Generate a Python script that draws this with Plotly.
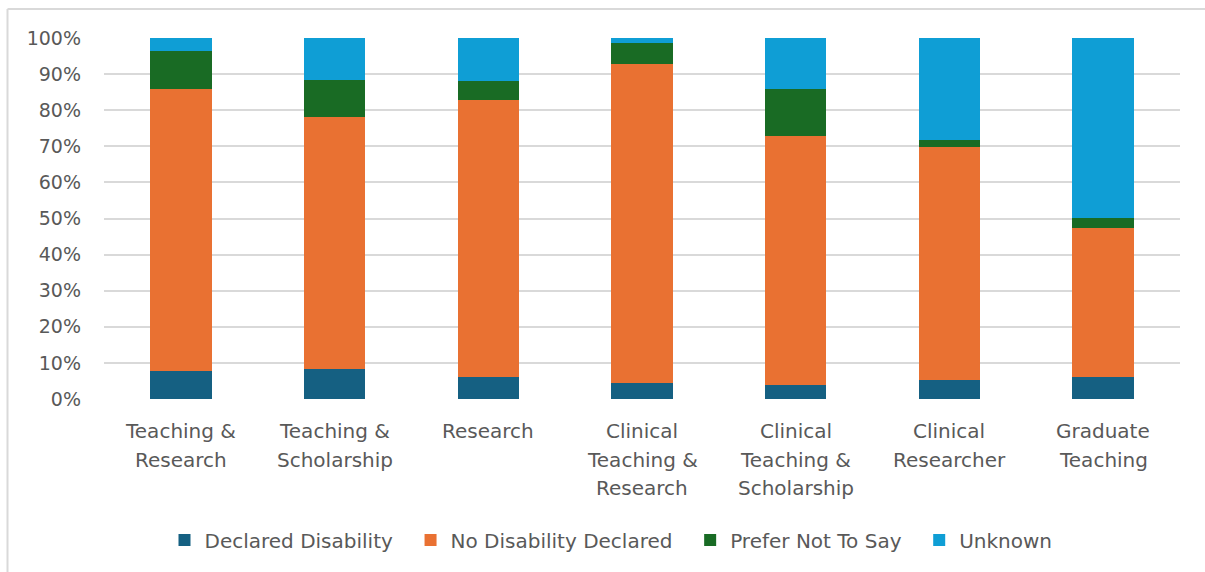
import plotly.graph_objects as go

categories = [
    "Teaching &<br>Research",
    "Teaching &<br>Scholarship",
    "Research",
    "Clinical<br>Teaching &<br>Research",
    "Clinical<br>Teaching &<br>Scholarship",
    "Clinical<br>Researcher",
    "Graduate<br>Teaching",
]
declared = [7.8, 8.3, 6.2, 4.4, 4.0, 5.4, 6.2]
no_declared = [78.2, 69.8, 76.7, 88.4, 68.9, 64.3, 41.2]
prefer_not = [10.4, 10.3, 5.2, 5.8, 12.9, 2.1, 2.7]
unknown = [3.6, 11.6, 11.9, 1.4, 14.2, 28.2, 49.9]

series_names = ["Declared Disability", "No Disability Declared", "Prefer Not To Say", "Unknown"]
series_colors = ["#156082", "#E97132", "#196B24", "#0F9ED5"]
series_values = [declared, no_declared, prefer_not, unknown]

W, H = 1205, 572
L, R, T, B = 104, 25, 38, 173
pw, ph = W - L - R, H - T - B

def px_x(x):
    return (x - L) / pw

def px_y(y):
    return (H - B - y) / ph

xs = list(range(len(categories)))
fig = go.Figure()
for k, (name, vals, color) in enumerate(zip(series_names, series_values, series_colors)):
    pad = "\u00a0\u00a0" if k < len(series_names) - 1 else ""
    fig.add_trace(go.Bar(
        name=name + pad, x=xs, y=vals,
        marker=dict(color=color, line=dict(width=0)),
        width=0.4,
    ))

font_family = "DejaVu Sans, sans-serif"
grey = "#595959"
fig.update_layout(
    width=W, height=H,
    margin=dict(l=L, r=R, t=T, b=B, pad=0),
    barmode="stack",
    paper_bgcolor="white", plot_bgcolor="white",
    font=dict(family=font_family, color=grey, size=19),
    xaxis=dict(
        tickmode="array", tickvals=xs, ticktext=categories,
        range=[-0.5, len(categories) - 0.5], showgrid=False, zeroline=False,
        showline=False, ticks="", showticklabels=False,
    ),
    yaxis=dict(
        range=[0, 100], tickvals=list(range(0, 101, 10)),
        ticktext=[f"{v}%" for v in range(0, 101, 10)],
        showgrid=True, gridcolor="#D9D9D9", gridwidth=1.5,
        zeroline=False, showline=False, ticks="", ticklabelstandoff=22,
        tickfont=dict(size=19, color=grey),
    ),
    legend=dict(
        orientation="h", x=px_x(611), xanchor="center", y=px_y(540), yanchor="middle",
        traceorder="normal", font=dict(size=20, color=grey),
        bgcolor="rgba(0,0,0,0)",
    ),
    showlegend=True,
)

# category labels, one line per annotation for Excel-like line spacing
line_gap = 28.7
for i, cat in enumerate(categories):
    for j, line in enumerate(cat.split("<br>")):
        fig.add_annotation(
            x=i, xref="x", y=px_y(431 + j * line_gap), yref="paper",
            text=line, showarrow=False, xanchor="center", yanchor="middle",
            font=dict(size=20, color=grey, family=font_family),
        )

# chart frame (top and left borders)
fig.add_shape(type="line", xref="paper", yref="paper",
              x0=px_x(7.5), x1=px_x(W + 5), y0=px_y(9), y1=px_y(9),
              line=dict(color="#D9D9D9", width=2))
fig.add_shape(type="line", xref="paper", yref="paper",
              x0=px_x(7.5), x1=px_x(7.5), y0=px_y(9), y1=px_y(H + 5),
              line=dict(color="#D9D9D9", width=2))

fig.write_html("out.html")
